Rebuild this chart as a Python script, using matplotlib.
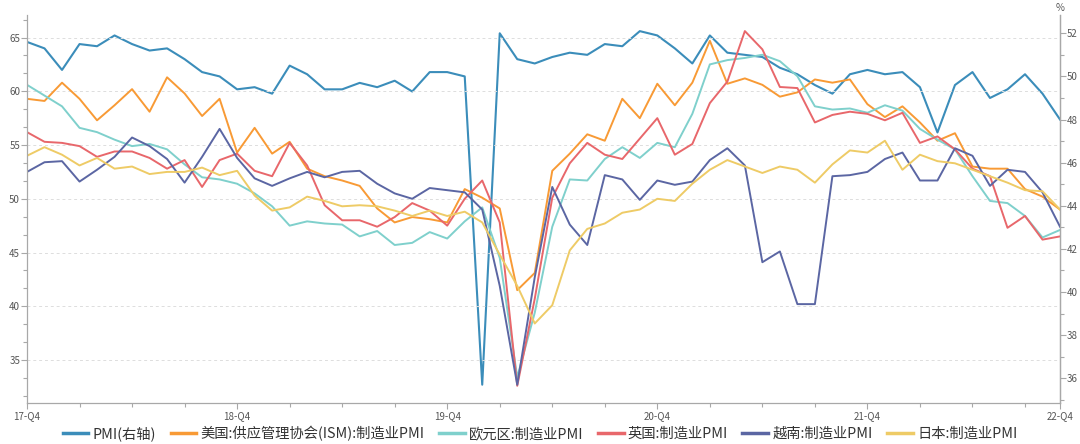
import matplotlib
matplotlib.use('Agg')
import matplotlib.pyplot as plt
from matplotlib.ticker import MultipleLocator, FixedLocator
import numpy as np

plt.rcParams['font.family'] = ['Noto Sans CJK SC', 'DejaVu Sans']

# monthly, 2017-12 .. 2022-11
china_pmi = [51.6,
             51.3, 50.3, 51.5, 51.4, 51.9, 51.5, 51.2, 51.3, 50.8, 50.2, 50.0, 49.4,
             49.5, 49.2, 50.5, 50.1, 49.4, 49.4, 49.7, 49.5, 49.8, 49.3, 50.2, 50.2,
             50.0, 35.7, 52.0, 50.8, 50.6, 50.9, 51.1, 51.0, 51.5, 51.4, 52.1, 51.9,
             51.3, 50.6, 51.9, 51.1, 51.0, 50.9, 50.4, 50.1, 49.6, 49.2, 50.1, 50.3,
             50.1, 50.2, 49.5, 47.4, 49.6, 50.2, 49.0, 49.4, 50.1, 49.2, 48.0]
us_ism = [59.3,
          59.1, 60.8, 59.3, 57.3, 58.7, 60.2, 58.1, 61.3, 59.8, 57.7, 59.3, 54.3,
          56.6, 54.2, 55.3, 52.8, 52.1, 51.7, 51.2, 49.1, 47.8, 48.3, 48.1, 47.8,
          50.9, 50.1, 49.1, 41.5, 43.1, 52.6, 54.2, 56.0, 55.4, 59.3, 57.5, 60.7,
          58.7, 60.8, 64.7, 60.7, 61.2, 60.6, 59.5, 59.9, 61.1, 60.8, 61.1, 58.8,
          57.6, 58.6, 57.1, 55.4, 56.1, 53.0, 52.8, 52.8, 50.9, 50.2, 49.0]
euro_pmi = [60.6,
            59.6, 58.6, 56.6, 56.2, 55.5, 54.9, 55.1, 54.6, 53.2, 52.0, 51.8, 51.4,
            50.5, 49.3, 47.5, 47.9, 47.7, 47.6, 46.5, 47.0, 45.7, 45.9, 46.9, 46.3,
            47.9, 49.2, 44.5, 33.4, 39.4, 47.4, 51.8, 51.7, 53.7, 54.8, 53.8, 55.2,
            54.8, 57.9, 62.5, 62.9, 63.1, 63.4, 62.8, 61.4, 58.6, 58.3, 58.4, 58.0,
            58.7, 58.2, 56.5, 55.5, 54.6, 52.1, 49.8, 49.6, 48.4, 46.4, 47.1]
uk_pmi = [56.2,
          55.3, 55.2, 54.9, 53.9, 54.4, 54.4, 53.8, 52.8, 53.6, 51.1, 53.6, 54.2,
          52.6, 52.1, 55.2, 53.1, 49.4, 48.0, 48.0, 47.4, 48.3, 49.6, 48.9, 47.5,
          50.0, 51.7, 47.8, 32.6, 40.7, 50.1, 53.3, 55.2, 54.1, 53.7, 55.6, 57.5,
          54.1, 55.1, 58.9, 60.9, 65.6, 63.9, 60.4, 60.3, 57.1, 57.8, 58.1, 57.9,
          57.3, 58.0, 55.2, 55.8, 54.6, 52.8, 52.1, 47.3, 48.4, 46.2, 46.5]
vietnam_pmi = [52.5,
               53.4, 53.5, 51.6, 52.7, 53.9, 55.7, 54.9, 53.7, 51.5, 53.9, 56.5, 53.8,
               51.9, 51.2, 51.9, 52.5, 52.0, 52.5, 52.6, 51.4, 50.5, 50.0, 51.0, 50.8,
               50.6, 49.0, 41.9, 32.7, 42.7, 51.1, 47.6, 45.7, 52.2, 51.8, 49.9, 51.7,
               51.3, 51.6, 53.6, 54.7, 53.1, 44.1, 45.1, 40.2, 40.2, 52.1, 52.2, 52.5,
               53.7, 54.3, 51.7, 51.7, 54.7, 54.0, 51.2, 52.7, 52.5, 50.6, 47.4]
japan_pmi = [54.0,
             54.8, 54.1, 53.1, 53.8, 52.8, 53.0, 52.3, 52.5, 52.5, 52.9, 52.2, 52.6,
             50.3, 48.9, 49.2, 50.2, 49.8, 49.3, 49.4, 49.3, 48.9, 48.4, 48.9, 48.4,
             48.8, 47.8, 44.8, 41.9, 38.4, 40.1, 45.2, 47.2, 47.7, 48.7, 49.0, 50.0,
             49.8, 51.4, 52.7, 53.6, 53.0, 52.4, 53.0, 52.7, 51.5, 53.2, 54.5, 54.3,
             55.4, 52.7, 54.1, 53.5, 53.3, 52.7, 52.1, 51.5, 50.8, 50.7, 49.0]

tick_pos = [0, 12, 24, 36, 48, 59]
tick_labels = ['17-Q4', '18-Q4', '19-Q4', '20-Q4', '21-Q4', '22-Q4']

names = ['美国:供应管理协会(ISM):制造业PMI', '欧元区:制造业PMI', '英国:制造业PMI',
         '越南:制造业PMI', '日本:制造业PMI']
colors = ['#f89a35', '#7fd0cc', '#e8676b', '#5b66a3', '#eecb66']

x = np.arange(len(china_pmi))

fig = plt.figure(figsize=(10.8, 4.44), dpi=100)
ax = fig.add_axes([0.025, 0.0923, 0.9565, 0.874])
ax2 = ax.twinx()

grey = '#a8a8a8'
lines = []
for vals, name, c in zip([us_ism, euro_pmi, uk_pmi, vietnam_pmi, japan_pmi], names, colors):
    l, = ax.plot(x, vals, color=c, lw=1.4, label=name)
    lines.append(l)
l0, = ax2.plot(x, china_pmi, color='#3b8dba', lw=1.5, label='PMI(右轴)')
ax.set_zorder(ax2.get_zorder() + 1)
ax.patch.set_visible(False)

ax.set_xlim(0, 59)
ax.set_ylim(31, 67.1)
ax2.set_ylim(34.85, 52.85)

ax.yaxis.set_major_locator(FixedLocator([35, 40, 45, 50, 55, 60, 65]))
ax.yaxis.set_minor_locator(MultipleLocator(5 / 3))
ax2.yaxis.set_major_locator(MultipleLocator(2))
ax2.yaxis.set_minor_locator(MultipleLocator(1))
ax.set_xticks(tick_pos)
ax.set_xticklabels(tick_labels)
ax.xaxis.set_minor_locator(FixedLocator(list(range(0, 59, 3)) + [59]))

ax.grid(axis='y', which='major', color='#dddddd', ls=(0, (3, 3)), lw=0.7)

for a in (ax, ax2):
    a.spines['top'].set_visible(False)
    for s in ('left', 'right', 'bottom'):
        a.spines[s].set_color(grey)
        a.spines[s].set_linewidth(0.9)
    a.tick_params(which='both', colors=grey, labelcolor='#555555', labelsize=7,
                  length=4, width=0.8)
    a.tick_params(which='minor', length=3)
ax.tick_params(axis='y', pad=1)
ax2.tick_params(axis='y', pad=1)
ax.tick_params(axis='x', pad=2)
ax2.spines['left'].set_visible(False)
ax2.spines['bottom'].set_visible(False)

ax2.text(1.0, 1.005, '%', transform=ax2.transAxes, ha='center', va='bottom',
         fontsize=7, color='#555555')

handles = [l0] + lines
fig.legend(handles, [h.get_label() for h in handles], loc='lower center',
           bbox_to_anchor=(0.5, 0.0), ncol=6, frameon=False, fontsize=10.3,
           handlelength=1.8, handletextpad=0.3, columnspacing=1.0,
           borderaxespad=0, borderpad=0.2, labelcolor='#333333')
for h in fig.legends[0].get_lines():
    h.set_linewidth(2.5)

fig.savefig('out.png', dpi=100)
